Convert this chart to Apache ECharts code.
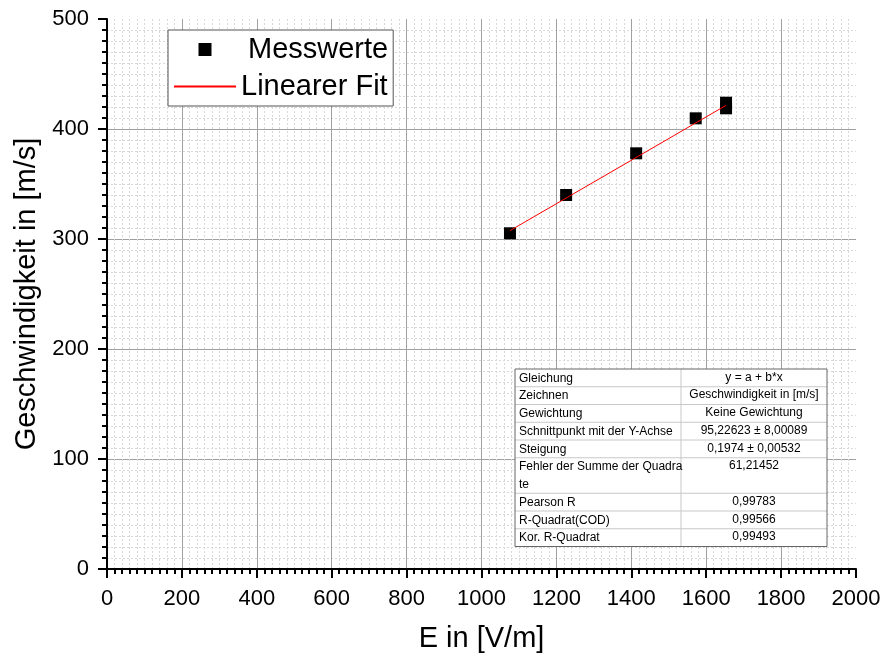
<!DOCTYPE html>
<html>
<head>
<meta charset="utf-8">
<script src="https://cdn.jsdelivr.net/npm/echarts@6/dist/echarts.min.js"></script>
<style>
  html, body { margin: 0; padding: 0; background: #fff; }
  #chart { width: 885px; height: 659px; }
</style>
</head>
<body>
<div id="chart"></div>
<script>
// Messwerte: E in V/m, Geschwindigkeit in m/s
const messE = [1076, 1226, 1413, 1572, 1653, 1653];
const messV = [305.2, 340.0, 377.9, 409.7, 423.9, 418.8];

// Linearer Fit (Endpunkte)
const fitE = [1076, 1653];
const fitV = [307.6, 421.5];

const xTicks = [0, 2000, 200];
const yTicks = [0, 500, 100];

// Ergebnistabelle
const tableLabels = [
  'Gleichung', 'Zeichnen', 'Gewichtung', 'Schnittpunkt mit der Y-Achse',
  'Steigung', 'Fehler der Summe der Quadra\nte', 'Pearson R',
  'R-Quadrat(COD)', 'Kor. R-Quadrat'
];
const tableValues = [
  'y = a + b*x', 'Geschwindigkeit in [m/s]', 'Keine Gewichtung',
  '95,22623 ± 8,00089', '0,1974 ± 0,00532', '61,21452',
  '0,99783', '0,99566', '0,99493'
];
const tableRowSpan = [1, 1, 1, 1, 1, 2, 1, 1, 1];

const FONT = '"Liberation Sans", Arial, sans-serif';

function buildTable() {
  const x0 = 515, x1 = 681, x2 = 827, y0 = 369, rowH = 17.75;
  const els = [];
  let y = y0;
  const total = tableRowSpan.reduce((a, b) => a + b, 0) * rowH;
  els.push({ type: 'rect', z: 100, shape: { x: x0, y: y0, width: x2 - x0, height: total },
    style: { fill: '#fff', stroke: 'none' } });
  tableLabels.forEach((lab, i) => {
    const h = tableRowSpan[i] * rowH;
    if (i > 0) {
      els.push({ type: 'line', z: 101, shape: { x1: x0, y1: y, x2: x2, y2: y },
        style: { stroke: '#c8c8c8', lineWidth: 1 } });
    }
    lab.split('\n').forEach((part, k) => {
      els.push({ type: 'text', z: 102, x: x0 + 4, y: y + rowH / 2 + k * rowH + 0.5,
        style: { text: part, font: '12px ' + FONT, fill: '#000',
          textAlign: 'left', textVerticalAlign: 'middle' } });
    });
    els.push({ type: 'text', z: 102, x: (x1 + x2) / 2, y: y + rowH / 2 - 0.5,
      style: { text: tableValues[i], font: '12px ' + FONT, fill: '#000',
        textAlign: 'center', textVerticalAlign: 'middle' } });
    y += h;
  });
  els.push({ type: 'line', z: 101, shape: { x1: x1, y1: y0, x2: x1, y2: y0 + total },
    style: { stroke: '#c8c8c8', lineWidth: 1 } });
  els.push({ type: 'rect', z: 103, shape: { x: x0, y: y0, width: x2 - x0, height: total },
    style: { fill: 'none', stroke: '#666', lineWidth: 1 } });
  return els;
}

const chart = echarts.init(document.getElementById('chart'));

const axisCommon = {
  type: 'value',
  nameLocation: 'middle',
  nameTextStyle: { fontSize: 29, color: '#000', fontFamily: FONT },
  axisLine: { show: true, onZero: false, lineStyle: { color: '#000', width: 2 } },
  axisTick: { show: true, inside: false, length: 9, lineStyle: { color: '#000', width: 2 } },
  minorTick: { show: true, splitNumber: 10, length: 5, lineStyle: { color: '#000', width: 2 } },
  axisLabel: { fontSize: 22, color: '#000', fontFamily: FONT, formatter: v => String(v) },
  splitLine: { show: true, showMinLine: false, showMaxLine: false,
    lineStyle: { color: '#a0a0a0', width: 1 } },
  minorSplitLine: { show: true, lineStyle: { color: '#d8d8d8', width: 1, type: [2, 2] } }
};

chart.setOption({
  animation: false,
  backgroundColor: '#fff',
  textStyle: { fontFamily: FONT },
  grid: { left: 107, right: 29, top: 19, bottom: 90 },
  xAxis: Object.assign({}, axisCommon, {
    name: 'E in [V/m]', nameGap: 55,
    min: xTicks[0], max: xTicks[1], interval: xTicks[2],
    axisLabel: Object.assign({}, axisCommon.axisLabel, { margin: 19 })
  }),
  yAxis: Object.assign({}, axisCommon, {
    name: 'Geschwindigkeit in [m/s]', nameGap: 57,
    min: yTicks[0], max: yTicks[1], interval: yTicks[2],
    axisLabel: Object.assign({}, axisCommon.axisLabel, { margin: 18 })
  }),
  legend: {
    orient: 'vertical', left: 168, top: 30, z: 50,
    padding: 5, itemGap: 8, itemWidth: 62, itemHeight: 13,
    symbolKeepAspect: true,
    backgroundColor: '#fff', borderColor: '#555', borderWidth: 1,
    textStyle: { fontSize: 29, color: '#000', fontFamily: FONT },
    data: [
      { name: 'Messwerte', icon: 'path://M0,0L10,0L10,10L0,10Z',
        textStyle: { padding: [0, 0, 0, 7] } },
      { name: 'Linearer Fit', itemStyle: { opacity: 0 } }
    ]
  },
  series: [
    {
      name: 'Messwerte', type: 'scatter', symbol: 'rect', symbolSize: 12,
      itemStyle: { color: '#000', opacity: 1 },
      data: messE.map((e, i) => [e, messV[i]]), z: 2
    },
    {
      name: 'Linearer Fit', type: 'line', symbol: 'none',
      lineStyle: { color: '#ff0000', width: 1 }, itemStyle: { color: '#ff0000' },
      data: fitE.map((e, i) => [e, fitV[i]]), z: 3
    }
  ],
  graphic: buildTable()
});
</script>
</body>
</html>
